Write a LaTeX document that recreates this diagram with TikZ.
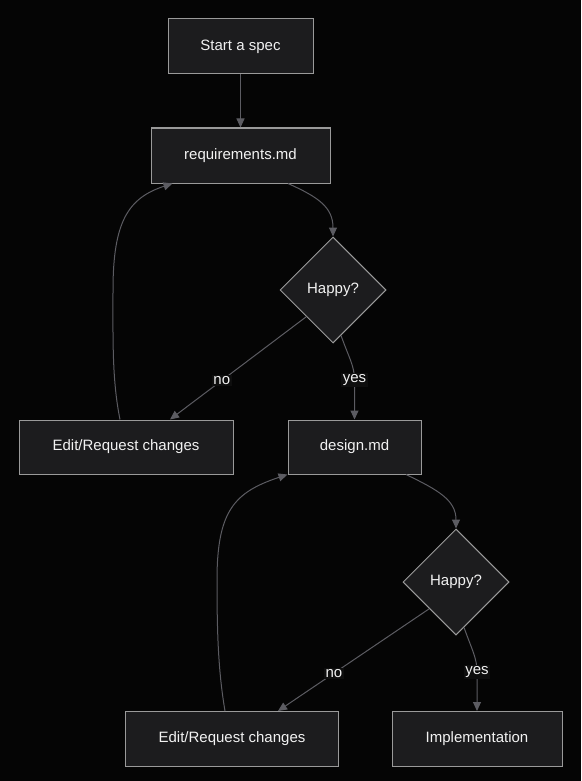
\documentclass[tikz,border=0pt]{standalone}
\usepackage{fontspec}
\setmainfont{Liberation Sans}
\usetikzlibrary{shapes.geometric,arrows.meta,calc}
\definecolor{bg}{HTML}{050505}
\definecolor{boxfill}{HTML}{1C1C1E}
\definecolor{boxline}{HTML}{9A9A9A}
\definecolor{edgec}{HTML}{5C5C62}
\definecolor{txt}{HTML}{F2F2F2}
\definecolor{lblbg}{HTML}{0E0E0E}
\tikzset{
  box/.style={rectangle, draw=boxline, fill=boxfill, line width=1pt, text=txt,
    inner sep=0pt, font=\fontsize{15}{17}\selectfont},
  decision/.style={diamond, aspect=1, draw=boxline, fill=boxfill, line width=1pt,
    text=txt, inner sep=0pt, minimum width=106pt, minimum height=106pt,
    font=\fontsize{15}{17}\selectfont},
  conn/.style={draw=edgec, line width=1pt, -{Triangle[width=8pt,length=9pt]}},
  lbl/.style={fill=lblbg, text=txt, inner sep=1.5pt, font=\fontsize{15}{17}\selectfont}
}
\begin{document}
\begin{tikzpicture}[x=1pt,y=-1pt]
\fill[bg] (0,0) rectangle (581,781);
\useasboundingbox (0,0) rectangle (581,781);

\node[box, minimum width=145pt, minimum height=55pt] (start) at (240.5,46.5) {Start a spec};
\node[box, minimum width=179pt, minimum height=55pt] (req) at (240.5,155.5) {requirements.md};
\node[decision] (h1) at (333,290) {Happy?};
\node[box, minimum width=214pt, minimum height=54pt] (e1) at (126,447) {Edit/Request changes};
\node[box, minimum width=133pt, minimum height=54pt] (des) at (354.5,447) {design.md};
\node[decision] (h2) at (456,582) {Happy?};
\node[box, minimum width=213pt, minimum height=55pt] (e2) at (232,739) {Edit/Request changes};
\node[box, minimum width=170pt, minimum height=55pt] (impl) at (477,739) {Implementation};

\coordinate (y1) at (354.5,380);
\coordinate (y2) at (477,672);

\draw[conn] (start) -- (req);
\draw[conn] ($(req.south)+(47.5,0)$) .. controls (318,197) and (333,207) .. (h1.north);
\draw[conn] (h1.south west) -- node[lbl, pos=0.62] {no} ($(e1.north)+(44,0)$);
\draw[conn] ($(h1.south)!0.15!(h1.east)$) .. controls (349,358) and (354.5,366) .. (y1)
  -- node[lbl, pos=0] {yes} (des.north);
\draw[conn] ($(e1.north)+(-6,0)$) .. controls (112,380) and (113,340) .. (113,290)
  .. controls (113,222) and (128,198) .. ($(req.south)+(-68,0)$);

\draw[conn] ($(des.south)+(51.5,0)$) .. controls (438,490) and (456,500) .. (h2.north);
\draw[conn] (h2.south west) -- node[lbl, pos=0.63] {no} ($(e2.north)+(46,0)$);
\draw[conn] ($(h2.south)!0.15!(h2.east)$) .. controls (472,650) and (477,658) .. (y2)
  -- node[lbl, pos=0] {yes} (impl.north);
\draw[conn] ($(e2.north)+(-7,0)$) .. controls (218,670) and (217,630) .. (217,580)
  .. controls (217,510) and (235,492) .. (des.south west);
\end{tikzpicture}
\end{document}
